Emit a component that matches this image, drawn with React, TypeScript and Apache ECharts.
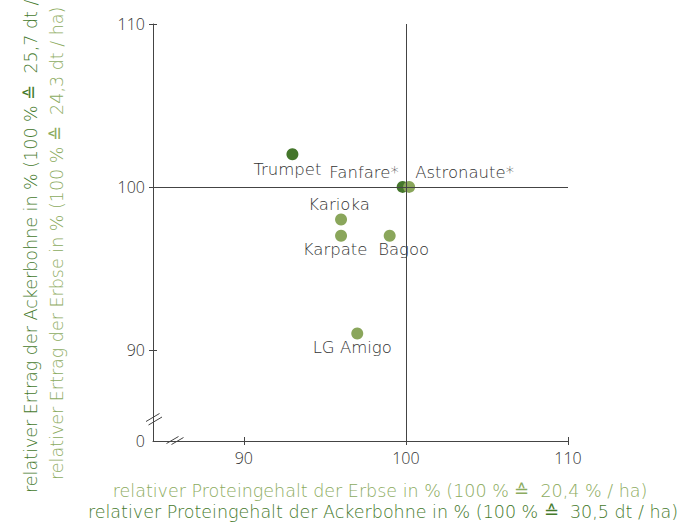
import React, { useEffect, useRef } from "react";
import * as echarts from "echarts";

// Ackerbohne (faba bean)
const beanNames = ["Trumpet", "Fanfare*"];
const beanProtein = [93, 99.8];
const beanYield = [102, 100];
// Erbse (pea)
const peaNames = ["Astronaute*", "Karioka", "Karpate", "Bagoo", "LG Amigo"];
const peaProtein = [100.2, 96, 96, 99, 97];
const peaYield = [100, 98, 97, 97, 91];

const tickValues = [90, 100, 110];
const axisMin = 84.4;
const axisMax = 110;
const referenceValue = 100;
const brokenAxisLabel = "0";

const yTitleBean = "relativer Ertrag der Ackerbohne in % (100 % ≙  25,7 dt / ha)";
const yTitlePea = "relativer Ertrag der Erbse in % (100 % ≙  24,3 dt / ha)";
const xTitlePea = "relativer Proteingehalt der Erbse in % (100 % ≙  20,4 % / ha)";
const xTitleBean = "relativer Proteingehalt der Ackerbohne in % (100 % ≙  30,5 dt / ha)";

const BEAN = "#44762b";
const PEA = "#8aa65b";
const BEAN_TEXT = "#457a2c";
const PEA_TEXT = "#8cab60";
const AXIS = "#444";
const TEXT = "#333";
const FONT = "'Open Sans', 'Noto Sans', sans-serif";
const WIDE = "'DejaVu Sans', 'Open Sans', sans-serif";

// label placement (style only, not data)
const labelPlacement: Record<string, { offset: [number, number]; align: string }> = {
  Trumpet: { offset: [-5, 15], align: "center" },
  "Fanfare*": { offset: [-4, -14], align: "right" },
  "Astronaute*": { offset: [6, -14], align: "left" },
  Karioka: { offset: [-2, -15], align: "center" },
  Karpate: { offset: [-6, 14], align: "center" },
  Bagoo: { offset: [14, 14], align: "center" },
  "LG Amigo": { offset: [-5, 14], align: "center" },
};

function makeData(names: string[], xs: number[], ys: number[]) {
  return names.map((n, i) => {
    const p = labelPlacement[n];
    return {
      name: n,
      value: [xs[i], ys[i]],
      label: {
        show: true,
        position: "inside",
        offset: p.offset,
        align: p.align,
        verticalAlign: "middle",
        formatter: n,
        color: TEXT,
        fontSize: 16.5,
        fontWeight: 200,
        fontFamily: WIDE,
      },
    };
  });
}

export default function App() {
  const ref = useRef<HTMLDivElement>(null);
  useEffect(() => {
    if (!ref.current) return;
    const chart = echarts.init(ref.current, undefined, { renderer: "svg" });
    const baseAxis = {
      min: axisMin,
      max: axisMax,
      splitLine: { show: false },
    };
    const tickFont = { color: TEXT, fontSize: 16, fontWeight: 300, fontFamily: FONT };
    const titleFont = `200 17.5px ${WIDE}`;
    chart.setOption({
      animation: false,
      backgroundColor: "#fff",
      grid: { left: 153, right: 116, top: 24, bottom: 84 },
      xAxis: [
        {
          ...baseAxis,
          type: "value",
          axisLine: { show: true, onZero: false, lineStyle: { color: AXIS, width: 1 } },
          axisTick: { show: true, inside: false, length: 4, customValues: tickValues, lineStyle: { color: AXIS } },
          axisLabel: { customValues: tickValues, margin: 9, ...tickFont },
        },
        {
          ...baseAxis,
          type: "value",
          position: "bottom",
          axisLine: { show: false, onZero: false },
          axisTick: { show: true, inside: true, length: 4, customValues: tickValues, lineStyle: { color: AXIS } },
          axisLabel: { show: false },
        },
      ],
      yAxis: [
        {
          ...baseAxis,
          type: "value",
          axisLine: { show: true, onZero: false, lineStyle: { color: AXIS, width: 1 } },
          axisTick: { show: true, inside: false, length: 4, customValues: tickValues, lineStyle: { color: AXIS } },
          axisLabel: {
            customValues: [axisMin, ...tickValues],
            formatter: (v: number) => (v < tickValues[0] - 1 ? brokenAxisLabel : String(v)),
            margin: 8,
            ...tickFont,
          },
        },
        {
          ...baseAxis,
          type: "value",
          position: "left",
          axisLine: { show: false, onZero: false },
          axisTick: { show: true, inside: true, length: 4, customValues: tickValues, lineStyle: { color: AXIS } },
          axisLabel: { show: false },
        },
      ],
      series: [
        {
          type: "scatter",
          name: "ref",
          data: [],
          silent: true,
          markLine: {
            silent: true,
            symbol: "none",
            label: { show: false },
            lineStyle: { color: AXIS, width: 1, type: "solid" },
            data: [{ xAxis: referenceValue }, { yAxis: referenceValue }],
          },
        },
        {
          type: "scatter",
          name: "Ackerbohne",
          symbolSize: 12,
          itemStyle: { color: BEAN, opacity: 1 },
          emphasis: { disabled: true },
          data: makeData(beanNames, beanProtein, beanYield),
        },
        {
          type: "scatter",
          name: "Erbse",
          symbolSize: 12,
          itemStyle: { color: PEA, opacity: 1 },
          emphasis: { disabled: true },
          data: makeData(peaNames, peaProtein, peaYield),
        },
      ],
      graphic: [
        // y axis break marks
        { type: "line", shape: { x1: 146, y1: 421.5, x2: 159.5, y2: 413.5 }, style: { stroke: AXIS, lineWidth: 1 } },
        { type: "line", shape: { x1: 148.5, y1: 425, x2: 162, y2: 417 }, style: { stroke: AXIS, lineWidth: 1 } },
        // x axis break gap and marks
        { type: "rect", shape: { x: 168, y: 437, width: 12, height: 7 }, style: { fill: "#fff" } },
        { type: "line", shape: { x1: 166.5, y1: 443.5, x2: 178.5, y2: 436.5 }, style: { stroke: AXIS, lineWidth: 1 } },
        { type: "line", shape: { x1: 171.5, y1: 444.5, x2: 183.5, y2: 437.5 }, style: { stroke: AXIS, lineWidth: 1 } },
        // y titles
        {
          type: "text",
          x: 31,
          y: 493,
          rotation: Math.PI / 2,
          style: { text: yTitleBean, fill: BEAN_TEXT, font: titleFont, textAlign: "left", textVerticalAlign: "middle" },
        },
        {
          type: "text",
          x: 57,
          y: 480,
          rotation: Math.PI / 2,
          style: { text: yTitlePea, fill: PEA_TEXT, font: titleFont, textAlign: "left", textVerticalAlign: "middle" },
        },
        // x titles
        {
          type: "text",
          x: 380,
          y: 491,
          style: { text: xTitlePea, fill: PEA_TEXT, font: titleFont, textAlign: "center", textVerticalAlign: "middle" },
        },
        {
          type: "text",
          x: 383,
          y: 512,
          style: { text: xTitleBean, fill: BEAN_TEXT, font: titleFont, textAlign: "center", textVerticalAlign: "middle" },
        },
      ],
    });
    return () => chart.dispose();
  }, []);
  return <div ref={ref} style={{ width: 684, height: 525, position: "absolute", left: 0, top: 0 }} />;
}
